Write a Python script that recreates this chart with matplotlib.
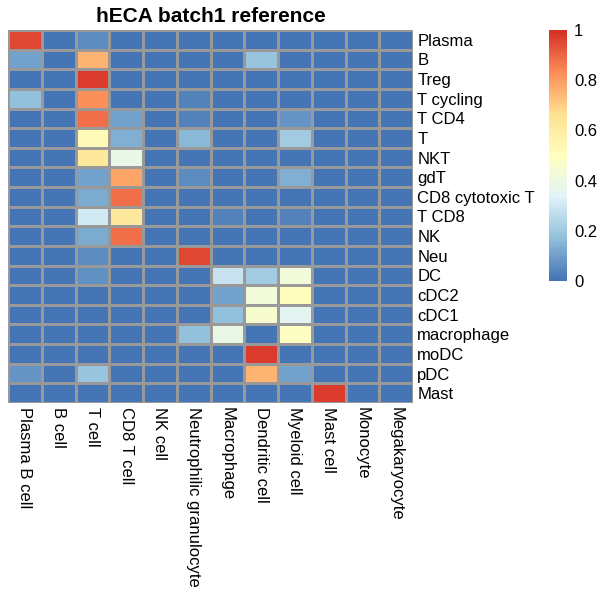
import numpy as np
import matplotlib.pyplot as plt
from matplotlib.colors import LinearSegmentedColormap

plt.rcParams['font.family'] = ['Liberation Sans', 'DejaVu Sans']

rows = ['Plasma', 'B', 'Treg', 'T cycling', 'T CD4', 'T', 'NKT', 'gdT',
        'CD8 cytotoxic T', 'T CD8', 'NK', 'Neu', 'DC', 'cDC2', 'cDC1',
        'macrophage', 'moDC', 'pDC', 'Mast']
cols = ['Plasma B cell', 'B cell', 'T cell', 'CD8 T cell', 'NK cell',
        'Neutrophilic granulocyte', 'Macrophage', 'Dendritic cell',
        'Myeloid cell', 'Mast cell', 'Monocyte', 'Megakaryocyte']

vals = np.array([
    [0.95, 0, 0.05, 0, 0, 0, 0, 0, 0, 0, 0, 0],
    [0.10, 0, 0.75, 0, 0, 0, 0, 0.18, 0, 0, 0, 0],
    [0, 0, 0.97, 0, 0, 0, 0, 0, 0, 0, 0, 0],
    [0.17, 0, 0.82, 0, 0, 0.03, 0, 0, 0, 0, 0, 0],
    [0, 0, 0.88, 0.10, 0, 0.03, 0, 0, 0.07, 0, 0, 0],
    [0, 0, 0.52, 0.13, 0, 0.15, 0, 0, 0.20, 0, 0, 0],
    [0, 0, 0.62, 0.38, 0, 0, 0, 0, 0, 0, 0, 0],
    [0, 0, 0.10, 0.78, 0, 0.05, 0, 0, 0.13, 0, 0, 0],
    [0, 0, 0.12, 0.88, 0, 0, 0, 0, 0, 0, 0, 0],
    [0, 0, 0.30, 0.62, 0, 0, 0.03, 0, 0.03, 0, 0, 0],
    [0, 0, 0.12, 0.88, 0, 0, 0, 0, 0, 0, 0, 0],
    [0, 0, 0.05, 0, 0, 0.95, 0, 0, 0, 0, 0, 0],
    [0, 0, 0.06, 0, 0, 0, 0.28, 0.20, 0.42, 0, 0, 0],
    [0, 0, 0, 0, 0, 0, 0.10, 0.42, 0.50, 0, 0, 0],
    [0, 0, 0, 0, 0, 0, 0.17, 0.45, 0.35, 0, 0, 0],
    [0, 0, 0, 0, 0, 0.17, 0.38, 0, 0.48, 0, 0, 0],
    [0, 0, 0, 0, 0, 0, 0, 0.97, 0, 0, 0, 0],
    [0.07, 0, 0.18, 0, 0, 0, 0, 0.75, 0.10, 0, 0, 0],
    [0, 0, 0, 0, 0, 0, 0, 0, 0, 0.97, 0, 0],
])

# pheatmap default palette (reversed RdYlBu 7)
cmap = LinearSegmentedColormap.from_list(
    'rdylbu', ['#4575B4', '#91BFDB', '#E0F3F8', '#FFFFBF', '#FEE090', '#FC8D59', '#D73027'], N=100)

fig = plt.figure(figsize=(6, 6), dpi=100)
ax = fig.add_axes([8/600, 1-403/600, 405/600, 373/600])
mesh = ax.pcolormesh(vals, cmap=cmap, vmin=0, vmax=1, edgecolors='#999999', linewidth=1)
ax.set_xlim(0, len(cols))
ax.set_ylim(len(rows), 0)
for s in ax.spines.values():
    s.set_visible(False)
ax.yaxis.tick_right()
ax.set_yticks(np.arange(len(rows)) + 0.5)
ax.set_yticklabels(rows, fontsize=12)
ax.set_xticks(np.arange(len(cols)) + 0.5)
ax.set_xticklabels(cols, fontsize=12, rotation=-90, ha='center', va='top')
ax.tick_params(length=0, pad=3)
ax.set_title('hECA batch1 reference', fontsize=15, fontweight='bold', pad=6)

cax = fig.add_axes([549/600, 1-281/600, 18/600, 251/600])
cb = fig.colorbar(mesh, cax=cax)
cb.outline.set_visible(False)
cb.set_ticks([0, 0.2, 0.4, 0.6, 0.8, 1])
cb.set_ticklabels(['0', '0.2', '0.4', '0.6', '0.8', '1'])
cax.tick_params(length=0, labelsize=12, pad=5)

fig.savefig('out.png', dpi=100)
